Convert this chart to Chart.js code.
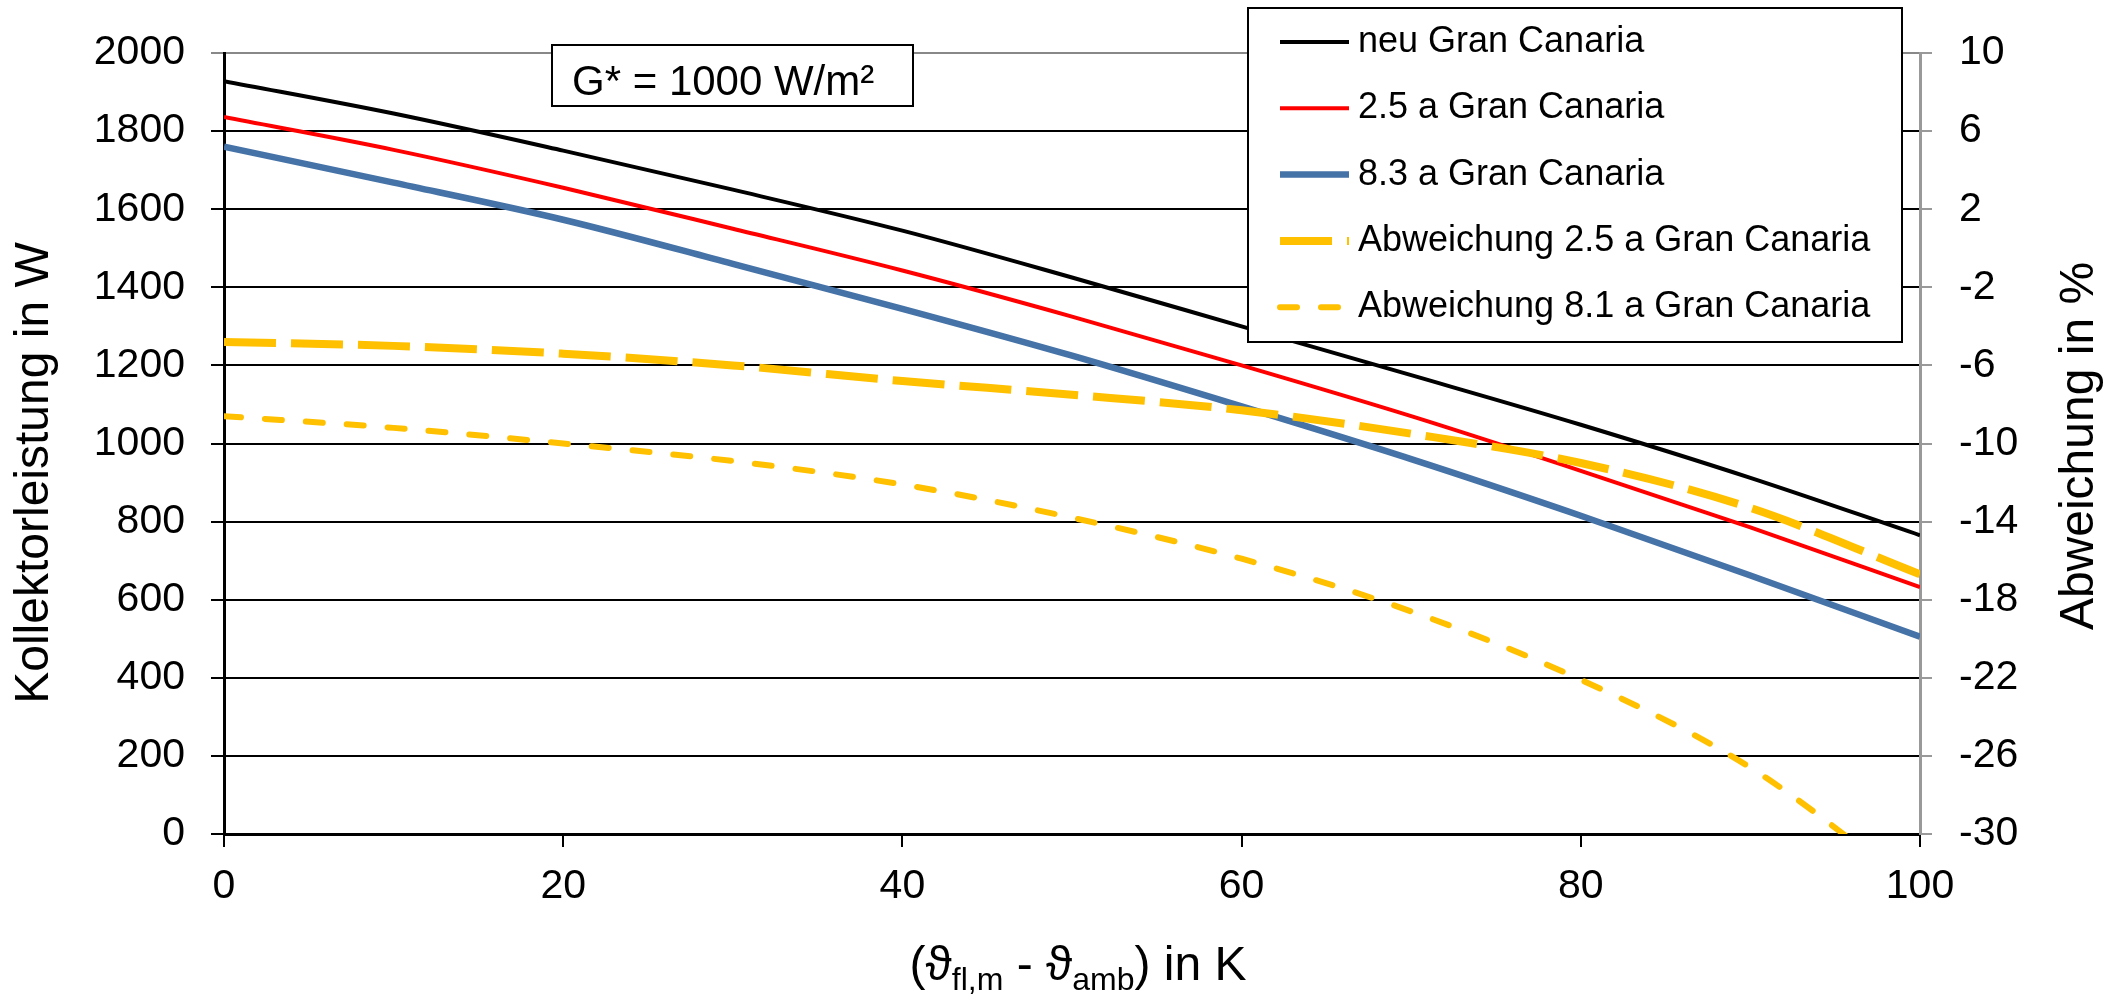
<!DOCTYPE html>
<html>
<head>
<meta charset="utf-8">
<script src="https://cdn.jsdelivr.net/npm/chart.js@4"></script>
<style>
body { margin: 0; background: #fff; }
#box { width: 2117px; height: 997px; }
</style>
</head>
<body>
<div id="box"><canvas id="myChart"></canvas></div>
<script>
// values
const temps = [0, 10, 20, 30, 40, 50, 60, 70, 80, 90, 100];
const neuGC = [1928, 1845, 1750, 1650, 1545, 1425, 1300, 1175, 1048, 912, 765];
const gc25 = [1836, 1752, 1655, 1550, 1443, 1325, 1200, 1070, 930, 785, 632];
const gc83 = [1760, 1668, 1573, 1460, 1345, 1225, 1095, 960, 815, 662, 505];
const abw25 = [-4.8, -5.0, -5.4, -6.0, -6.8, -7.5, -8.3, -9.5, -11.0, -13.3, -16.7];
const abw81 = [-8.6, -9.2, -10.0, -10.9, -12.1, -13.8, -15.9, -18.6, -22.1, -26.6, -33];

const seriesNames = ['neu Gran Canaria', '2.5 a Gran Canaria', '8.3 a Gran Canaria',
    'Abweichung 2.5 a Gran Canaria', 'Abweichung 8.1 a Gran Canaria'];

const xTicks = [0, 20, 40, 60, 80, 100];
const leftTicks = [0, 200, 400, 600, 800, 1000, 1200, 1400, 1600, 1800, 2000];
const rightTicks = [-30, -26, -22, -18, -14, -10, -6, -2, 2, 6, 10];

const leftTitle = 'Kollektorleistung in W';
const rightTitle = 'Abweichung in %';
const noteText = 'G* = 1000 W/m²';
// x title pieces, second value = subscript
const xTitle = [['(ϑ', false], ['fl,m', true], [' - ϑ', false], ['amb', true], [') in K', false]];

const fam = '"Liberation Sans", Arial, sans-serif';
const font = (size) => size + 'px ' + fam;
const YELLOW = '#FFC000';

const pts = (arr) => temps.map((t, i) => ({x: t, y: arr[i]}));

const fixTicks = (list) => (scale) => {
    scale.ticks = list.map(v => ({value: v}));
};
const plain = (v) => String(v);

const extras = {
    id: 'extras',
    afterDraw(chart) {
        const ctx = chart.ctx;
        const area = chart.chartArea;
        ctx.save();

        // G* box
        ctx.fillStyle = '#fff';
        ctx.strokeStyle = '#000';
        ctx.lineWidth = 2;
        ctx.fillRect(552, 45, 361, 61);
        ctx.strokeRect(552, 45, 361, 61);
        ctx.fillStyle = '#000';
        ctx.font = font(42);
        ctx.textAlign = 'left';
        ctx.textBaseline = 'alphabetic';
        ctx.fillText(noteText, 572, 95);

        // legend box
        ctx.fillStyle = '#fff';
        ctx.fillRect(1248, 8, 654, 334);
        ctx.strokeRect(1248, 8, 654, 334);
        ctx.font = font(36);
        ctx.textBaseline = 'middle';
        chart.data.datasets.forEach((ds, i) => {
            const y = 42 + i * 66.3;
            ctx.save();
            ctx.strokeStyle = ds.borderColor;
            ctx.lineWidth = ds.borderWidth;
            ctx.lineCap = ds.borderCapStyle || 'butt';
            ctx.setLineDash(ds.borderDash || []);
            ctx.beginPath();
            ctx.moveTo(1280, y);
            ctx.lineTo(1349, y);
            ctx.stroke();
            ctx.restore();
            ctx.fillStyle = '#000';
            ctx.fillText(ds.label, 1358, y);
        });

        // axis titles
        ctx.font = font(48);
        ctx.textAlign = 'center';
        ctx.textBaseline = 'middle';
        ctx.fillStyle = '#000';
        ctx.save();
        ctx.translate(35, 473);
        ctx.rotate(-Math.PI / 2);
        ctx.fillText(leftTitle, 0, 0);
        ctx.restore();
        ctx.save();
        ctx.translate(2080, 446);
        ctx.rotate(-Math.PI / 2);
        ctx.fillText(rightTitle, 0, 0);
        ctx.restore();

        ctx.textAlign = 'left';
        ctx.textBaseline = 'alphabetic';
        let w = 0;
        xTitle.forEach(([t, sub]) => {
            ctx.font = font(sub ? 32 : 48);
            w += ctx.measureText(t).width;
        });
        let x = (area.left + area.right) / 2 + 6 - w / 2;
        xTitle.forEach(([t, sub]) => {
            ctx.font = font(sub ? 32 : 48);
            ctx.fillText(t, x, sub ? 990 : 980);
            x += ctx.measureText(t).width;
        });
        ctx.restore();
    }
};

const data = {
    datasets: [{
        label: seriesNames[0],
        data: pts(neuGC),
        yAxisID: 'y',
        borderColor: '#000',
        borderWidth: 4,
        order: 5
    }, {
        label: seriesNames[1],
        data: pts(gc25),
        yAxisID: 'y',
        borderColor: '#FF0000',
        borderWidth: 4,
        order: 4
    }, {
        label: seriesNames[2],
        data: pts(gc83),
        yAxisID: 'y',
        borderColor: '#4572A7',
        borderWidth: 6.5,
        order: 3
    }, {
        label: seriesNames[3],
        data: pts(abw25),
        yAxisID: 'y2',
        borderColor: YELLOW,
        borderWidth: 8,
        borderDash: [52, 15],
        order: 2
    }, {
        label: seriesNames[4],
        data: pts(abw81),
        yAxisID: 'y2',
        borderColor: YELLOW,
        borderWidth: 6,
        borderDash: [17, 24],
        borderCapStyle: 'round',
        clip: 0,
        order: 1
    }]
};

const config = {
    type: 'line',
    data: data,
    options: {
        responsive: true,
        maintainAspectRatio: false,
        animation: false,
        layout: {padding: {top: 53, left: 0, right: 0, bottom: 0}},
        elements: {
            point: {radius: 0},
            line: {cubicInterpolationMode: 'monotone', fill: false}
        },
        plugins: {
            legend: {display: false},
            tooltip: {enabled: false}
        },
        scales: {
            x: {
                type: 'linear',
                min: 0,
                max: 100,
                afterBuildTicks: fixTicks(xTicks),
                afterFit: (s) => { s.height = 163; },
                border: {color: '#000', width: 3},
                grid: {drawOnChartArea: false, color: '#000', lineWidth: 2, tickLength: 13},
                ticks: {color: '#000', font: {size: 41, family: fam}, padding: 15, maxRotation: 0, callback: plain}
            },
            y: {
                position: 'left',
                min: 0,
                max: 2000,
                afterBuildTicks: fixTicks(leftTicks),
                afterFit: (s) => { s.width = 224; },
                border: {color: '#000', width: 3},
                grid: {
                    color: (c) => c.tick && c.tick.value === 2000 ? '#888' : '#000',
                    lineWidth: 2,
                    tickLength: 13
                },
                ticks: {color: '#000', font: {size: 41, family: fam}, padding: 26, callback: plain}
            },
            y2: {
                position: 'right',
                min: -30,
                max: 10,
                afterBuildTicks: fixTicks(rightTicks),
                afterFit: (s) => { s.width = 197; },
                border: {color: '#999', width: 3},
                grid: {drawOnChartArea: false, color: '#999', lineWidth: 2, tickLength: 12},
                ticks: {color: '#000', font: {size: 41, family: fam}, padding: 27, callback: plain}
            }
        }
    },
    plugins: [extras]
};

const myChart = new Chart(document.getElementById('myChart'), config);
</script>
</body>
</html>
